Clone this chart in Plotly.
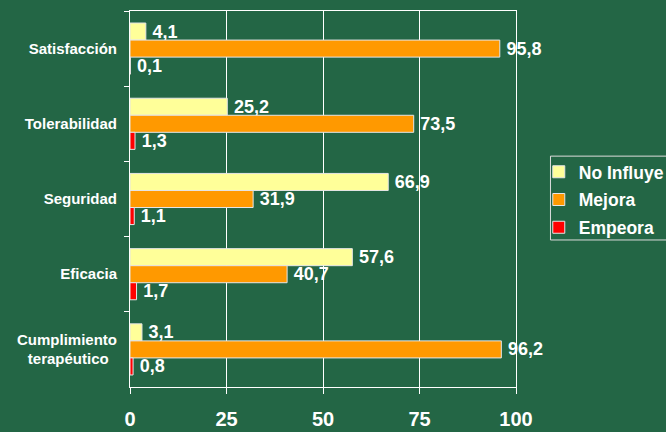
import plotly.graph_objects as go

BG = "#236645"
FONT = "Arial, 'Liberation Sans', sans-serif"

categories = ["Satisfacción", "Tolerabilidad", "Seguridad", "Eficacia",
              "Cumplimiento<br>terapéutico\u00a0\u00a0"]
no_influye = [4.1, 25.2, 66.9, 57.6, 3.1]
mejora = [95.8, 73.5, 31.9, 40.7, 96.2]
empeora = [0.1, 1.3, 1.1, 1.7, 0.8]

series = [
    ("No Influye", no_influye, "#FFFF99"),
    ("Mejora", mejora, "#FF9900"),
    ("Empeora", empeora, "#FF0000"),
]


def fmt(v):
    # thin space keeps the label off the bar end, comma decimals
    return "\u2009" + f"{v:.1f}".replace(".", ",")


fig = go.Figure()
for name, vals, color in series:
    fig.add_trace(go.Bar(
        y=categories,
        x=vals,
        name=name,
        legendgroup=name,
        orientation="h",
        marker=dict(color=color, line=dict(color="#e6e6e6", width=1)),
        text=[fmt(v) for v in vals],
        textposition="outside",
        constraintext="none",
        cliponaxis=False,
        textfont=dict(family=FONT, size=18, color="white", weight="bold"),
    ))

# legend frame (runs off the right edge like the original)
fig.add_shape(type="rect", xref="paper", yref="paper",
              x0=1.0893, x1=1.5, y0=0.391, y1=0.614,
              line=dict(color="#dcdcdc", width=1))

fig.update_layout(
    width=666,
    height=432,
    paper_bgcolor=BG,
    plot_bgcolor=BG,
    barmode="group",
    bargap=0.32,
    bargroupgap=0,
    margin=dict(l=129.5, r=150, t=11, b=45, autoexpand=False),
    font=dict(family=FONT, color="white"),
    legend=dict(
        x=1.059, y=0.62, xanchor="left", yanchor="top",
        bgcolor="rgba(0,0,0,0)",
        borderwidth=0,
        traceorder="grouped",
        tracegroupgap=2,
        font=dict(family=FONT, size=17.5, color="white", weight="bold"),
    ),
    xaxis=dict(
        range=[0, 100],
        tickvals=[0, 25, 50, 75, 100],
        showgrid=True, gridcolor="white", gridwidth=1,
        showline=True, linecolor="white", linewidth=1, mirror=True,
        ticks="outside", ticklen=6, tickcolor="white",
        ticklabelstandoff=8,
        tickfont=dict(family=FONT, size=20, color="white", weight="bold"),
        zeroline=False,
        automargin=False,
    ),
    yaxis=dict(
        autorange="reversed",
        showgrid=False,
        showline=True, linecolor="white", linewidth=1, mirror=True,
        ticks="outside", ticklen=5, tickcolor="white",
        tickson="boundaries",
        ticklabelstandoff=9,
        tickfont=dict(family=FONT, size=15, color="white", weight="bold"),
        automargin=False,
    ),
)

fig.write_html("out.html", config={"displayModeBar": False},
               post_script="document.body.style.margin='0';")
